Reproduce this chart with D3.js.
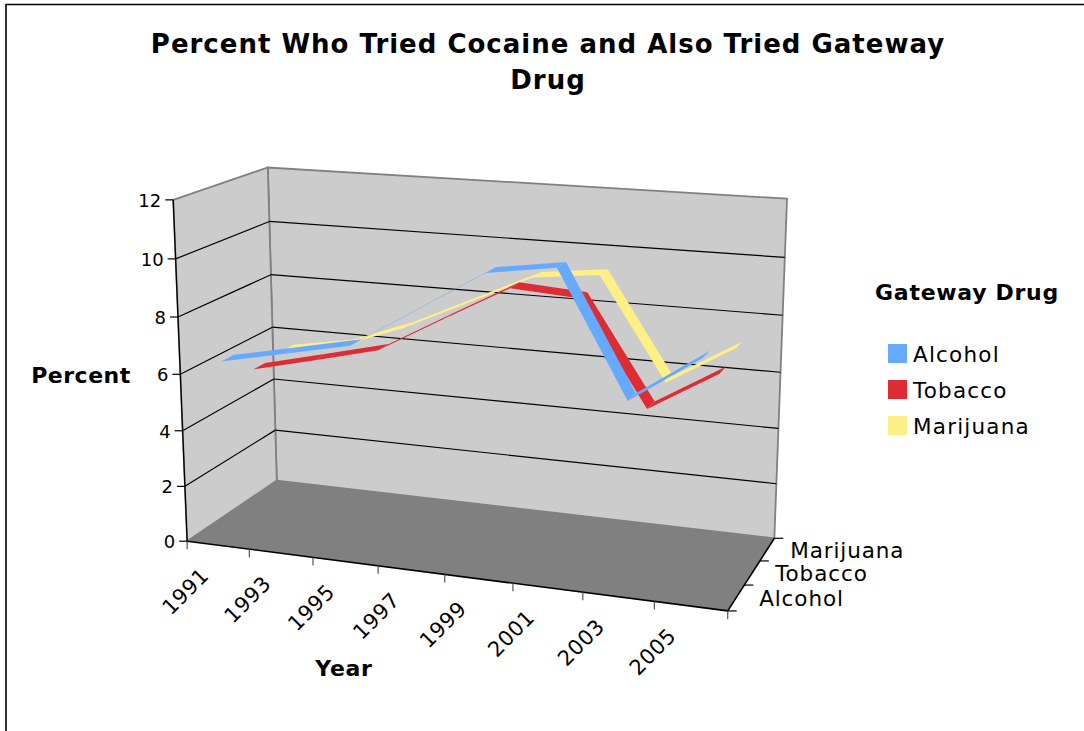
<!DOCTYPE html>
<html><head><meta charset="utf-8">
<script src="https://cdn.jsdelivr.net/npm/d3@7/dist/d3.min.js"></script>
<style>html,body{margin:0;padding:0;background:#fff}svg{display:block}text{font-family:"DejaVu Sans",Verdana,sans-serif;fill:#000}</style>
</head><body><svg id="c" width="1084" height="731"></svg>
<script>
const years=["1991","1993","1995","1997","1999","2001","2003","2005"];
const drugs=["Alcohol","Tobacco","Marijuana"];
const drugColors=["#66aaff","#dd2c33","#fff085"];
const alcohol=[6.38,6.86,7.34,8.75,10.16,10.50,6.36,7.98];
const tobacco=[5.50,6.05,6.61,7.90,9.16,9.00,5.45,6.87];
const marijuana=[5.60,6.00,6.86,7.95,9.03,9.30,5.73,7.15];
const seriesValues=[alcohol,tobacco,marijuana];
const valueTicks=[0,2,4,6,8,10,12];

const svg=d3.select("#c");
const xBand=d3.scaleBand().domain(years).range([0,1]);
const yLin=d3.scaleLinear().domain([0,12]).range([0,1]);
const zBand=d3.scaleBand().domain(drugs).range([0,1]);

// Projective camera from the seven visible box corners (least squares).
const anchors=[[0,0,0,188,541],[1,0,0,727,612],[1,0,1,775,537],[0,0,1,276,481],[0,1,0,173,199],[0,1,1,268,168],[1,1,1,787,199]];
function solve(A,b){const n=b.length,M=A.map((r,i)=>[...r,b[i]]);
  for(let i=0;i<n;i++){let p=i;for(let k=i+1;k<n;k++)if(Math.abs(M[k][i])>Math.abs(M[p][i]))p=k;[M[i],M[p]]=[M[p],M[i]];
    for(let k=i+1;k<n;k++){const f=M[k][i]/M[i][i];for(let j=i;j<=n;j++)M[k][j]-=f*M[i][j];}}
  const x=Array(n).fill(0);for(let i=n-1;i>=0;i--){let s=M[i][n];for(let j=i+1;j<n;j++)s-=M[i][j]*x[j];x[i]=s/M[i][i];}return x;}
const rows=[],rhs=[];
anchors.forEach(([x,y,z,u,v])=>{
  rows.push([x,y,z,1,0,0,0,0,-u*x,-u*y,-u*z]);rhs.push(u);
  rows.push([0,0,0,0,x,y,z,1,-v*x,-v*y,-v*z]);rhs.push(v);
});
const AT=d3.range(11).map(i=>d3.range(11).map(j=>d3.sum(rows,r=>r[i]*r[j])));
const ATb=d3.range(11).map(i=>d3.sum(rows,(r,k)=>r[i]*rhs[k]));
const cam=solve(AT,ATb);
const project=(x,y,z)=>{const w=cam[8]*x+cam[9]*y+cam[10]*z+1;
  return [(cam[0]*x+cam[1]*y+cam[2]*z+cam[3])/w,(cam[4]*x+cam[5]*y+cam[6]*z+cam[7])/w];};
const poly=pts=>"M"+pts.map(p=>project(...p).map(v=>v.toFixed(2)).join(",")).join("L")+"Z";
const seg=(a,b,stroke,w=1)=>{const p=project(...a),q=project(...b);
  svg.append("line").attr("x1",p[0]).attr("y1",p[1]).attr("x2",q[0]).attr("y2",q[1]).attr("stroke",stroke).attr("stroke-width",w);};
const label=(x,y,txt,size,opts={})=>svg.append("text").attr("x",x).attr("y",y).attr("font-size",size)
  .attr("text-anchor",opts.anchor||"start").attr("font-weight",opts.bold?"bold":"normal")
  .style("letter-spacing",(opts.spacing||0)+"px").text(txt);

// Chart frame
svg.append("path").attr("d","M6,731V4.5H1084").attr("fill","none").attr("stroke","#000").attr("stroke-width",1.6);

// Walls and floor
svg.append("path").attr("d",poly([[0,0,1],[1,0,1],[1,1,1],[0,1,1]])).attr("fill","#cccccc").attr("stroke","#808080").attr("stroke-width",1.8);
svg.append("path").attr("d",poly([[0,0,0],[0,0,1],[0,1,1],[0,1,0]])).attr("fill","#cccccc").attr("stroke","#808080").attr("stroke-width",1.8);
svg.append("path").attr("d",poly([[0,0,0],[1,0,0],[1,0,1],[0,0,1]])).attr("fill","#808080");

// Gridlines along both walls
valueTicks.slice(1,-1).forEach(t=>{const y=yLin(t);
  seg([0,y,0],[0,y,1],"#000",1.2);seg([0,y,1],[1,y,1],"#000",1.2);});

// Ribbons, back series first
const ribbon=zBand.bandwidth()/2.5;
d3.range(drugs.length-1,-1,-1).forEach(s=>{
  const z=zBand(drugs[s])+zBand.bandwidth()/2, vals=seriesValues[s];
  const xc=i=>xBand(years[i])+xBand.bandwidth()/2;
  d3.pairs(d3.range(years.length)).forEach(([i,j])=>{
    svg.append("path").attr("d",poly([[xc(i),yLin(vals[i]),z-ribbon/2],[xc(j),yLin(vals[j]),z-ribbon/2],[xc(j),yLin(vals[j]),z+ribbon/2],[xc(i),yLin(vals[i]),z+ribbon/2]]))
      .attr("fill",drugColors[s]);
  });
});

// Axes on the front edges
seg([0,0,0],[0,1,0],"#000",1.3);seg([0,0,0],[1,0,0],"#000",1.6);seg([1,0,0],[1,0,1],"#000",1.6);

// Value axis
valueTicks.forEach(t=>{const p=project(0,yLin(t),0);
  svg.append("line").attr("x1",p[0]-8).attr("y1",p[1]).attr("x2",p[0]).attr("y2",p[1]).attr("stroke","#000").attr("stroke-width",1.2);
  label(p[0]-12,p[1]+7,t,18,{anchor:"end"});});

// Category axis: labels sit at the tick that opens each category
d3.range(years.length+1).forEach(i=>{const p=project(i/years.length,0,0);
  svg.append("line").attr("x1",p[0]).attr("y1",p[1]).attr("x2",p[0]).attr("y2",p[1]+8).attr("stroke","#555").attr("stroke-width",1.2);
});
years.forEach((yr,i)=>{const p=project(i/years.length,0,0);
  svg.append("text").attr("transform",`translate(${p[0]-2},${p[1]+50}) rotate(-45)`).attr("text-anchor","middle").attr("dy","0.36em")
    .attr("font-size",21).style("letter-spacing","0.5px").text(yr);});

// Depth axis
d3.range(drugs.length+1).forEach(i=>{const p=project(1,0,i/drugs.length);
  svg.append("line").attr("x1",p[0]).attr("y1",p[1]).attr("x2",p[0]+9).attr("y2",p[1]).attr("stroke","#000").attr("stroke-width",1.2);});
drugs.forEach(d=>{const p=project(1,0,zBand(d)+zBand.bandwidth()/2);
  label(p[0]+23,p[1]+8.5,d,21.5,{spacing:0.9});});

// Titles
label(548,53,"Percent Who Tried Cocaine and Also Tried Gateway",26,{anchor:"middle",bold:true,spacing:1});
label(548,89,"Drug",26,{anchor:"middle",bold:true,spacing:1});
label(81,383,"Percent",22,{anchor:"middle",bold:true,spacing:0.5});
label(344,676,"Year",22,{anchor:"middle",bold:true,spacing:0.7});

// Legend
label(967,300,"Gateway Drug",22,{anchor:"middle",bold:true,spacing:0.7});
drugs.forEach((d,i)=>{const y=344+i*36;
  svg.append("rect").attr("x",888).attr("y",y).attr("width",19).attr("height",19).attr("fill",drugColors[i]);
  label(913,y+18,d,21.5,{spacing:1.2});});
</script></body></html>
